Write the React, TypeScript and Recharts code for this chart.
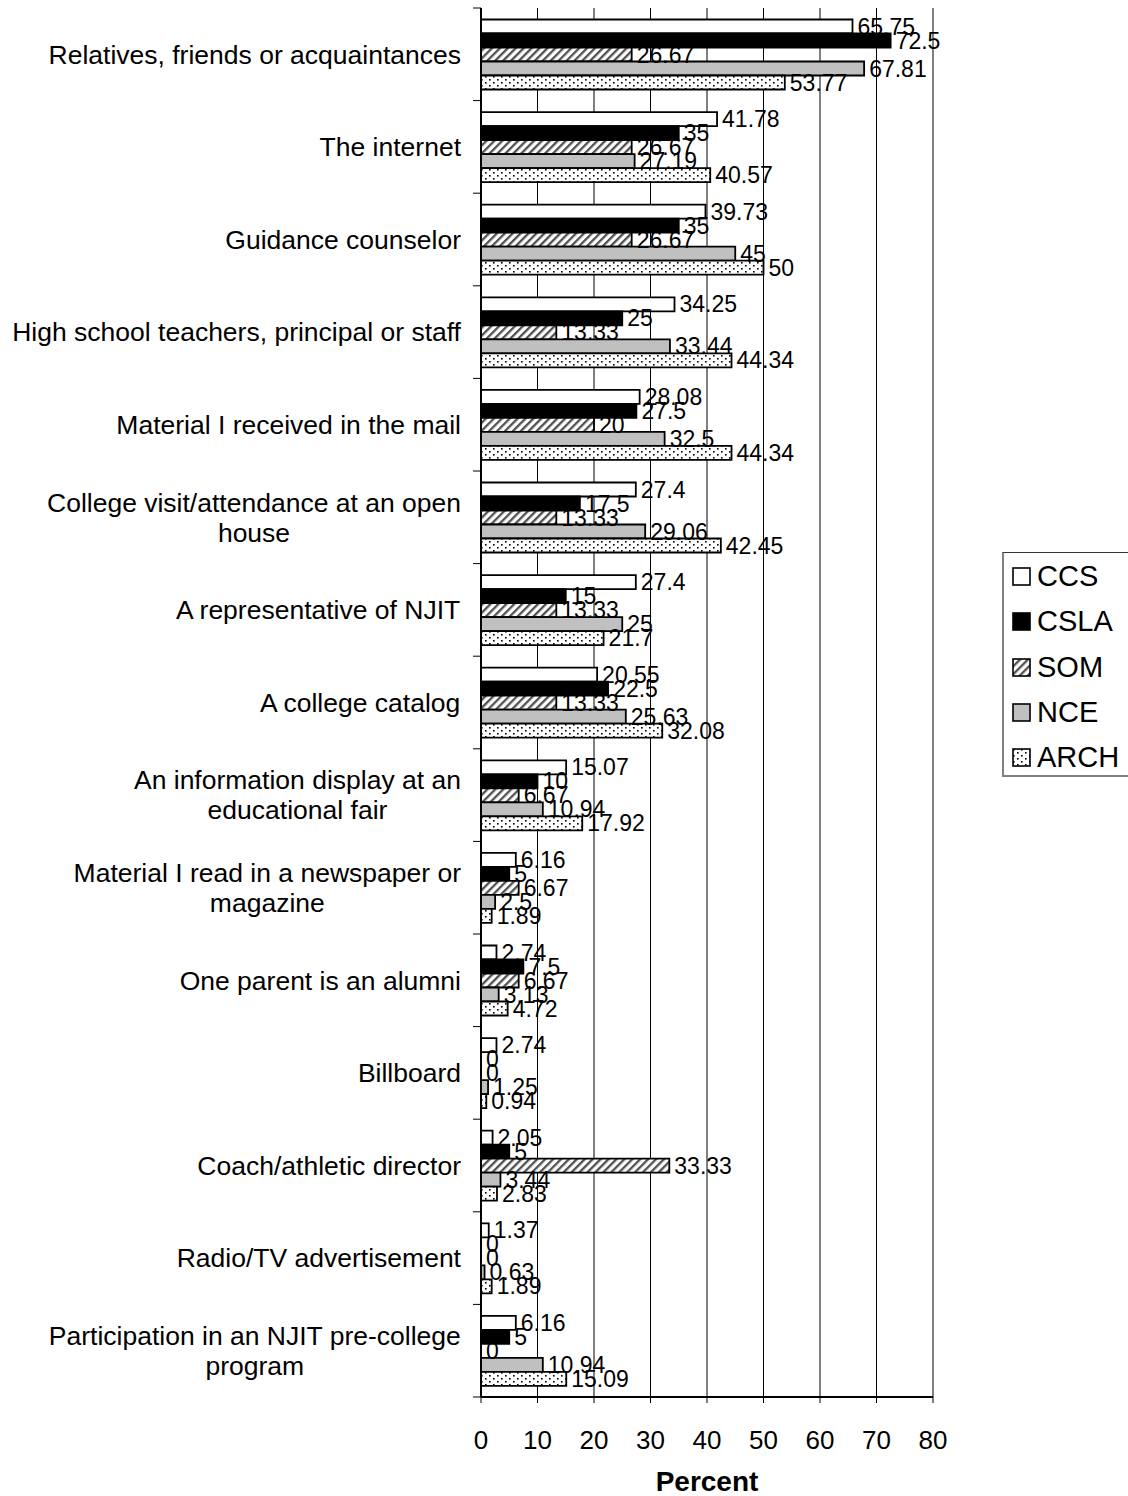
import React from 'react';
import { BarChart, Bar, XAxis, YAxis, CartesianGrid, LabelList, Legend, Label, Cell } from 'recharts';

const categories = [
  'Relatives, friends or acquaintances',
  'The internet',
  'Guidance counselor',
  'High school teachers, principal or staff',
  'Material I received in the mail',
  'College visit/attendance at an open house',
  'A representative of NJIT',
  'A college catalog',
  'An information display at an educational fair',
  'Material I read in a newspaper or magazine',
  'One parent is an alumni',
  'Billboard',
  'Coach/athletic director',
  'Radio/TV advertisement',
  'Participation in an NJIT pre-college program',
];

const ccs = [65.75, 41.78, 39.73, 34.25, 28.08, 27.4, 27.4, 20.55, 15.07, 6.16, 2.74, 2.74, 2.05, 1.37, 6.16];
const csla = [72.5, 35, 35, 25, 27.5, 17.5, 15, 22.5, 10, 5, 7.5, 0, 5, 0, 5];
const som = [26.67, 26.67, 26.67, 13.33, 20, 13.33, 13.33, 13.33, 6.67, 6.67, 6.67, 0, 33.33, 0, 0];
const nce = [67.81, 27.19, 45, 33.44, 32.5, 29.06, 25, 25.63, 10.94, 2.5, 3.13, 1.25, 3.44, 0.63, 10.94];
const arch = [53.77, 40.57, 50, 44.34, 44.34, 42.45, 21.7, 32.08, 17.92, 1.89, 4.72, 0.94, 2.83, 1.89, 15.09];

const seriesNames = ['CCS', 'CSLA', 'SOM', 'NCE', 'ARCH'];
const seriesValues: Record<string, number[]> = { CCS: ccs, CSLA: csla, SOM: som, NCE: nce, ARCH: arch };
const xTicks = [0, 10, 20, 30, 40, 50, 60, 70, 80];
const xTitle = 'Percent';

const data = categories.map((name, i) => ({
  name,
  CCS: ccs[i],
  CSLA: csla[i],
  SOM: som[i],
  NCE: nce[i],
  ARCH: arch[i],
}));

const FONT = "'Liberation Sans', Arial, sans-serif";
const W = 1128;
const H = 1496;
const M = { top: 8, right: 195, bottom: 0, left: 0 };
const Y_W = 481;
const X_H = 99;
const PLOT_H = H - M.top - M.bottom - X_H;
const STEP = PLOT_H / categories.length;
const CAT_FS = 26.5;
const WRAP_W = 458;
const LINE_H = 30;

const fills: Record<string, string> = {
  CCS: '#ffffff',
  CSLA: '#000000',
  SOM: 'url(#hatchSOM)',
  NCE: '#c0c0c0',
  ARCH: 'url(#dotsARCH)',
};

let ctx: CanvasRenderingContext2D | null = null;
function measure(t: string): number {
  if (!ctx) ctx = document.createElement('canvas').getContext('2d');
  if (!ctx) return t.length * CAT_FS * 0.5;
  ctx.font = `${CAT_FS}px ${FONT}`;
  return ctx.measureText(t).width;
}

function wrap(text: string, maxW: number): string[] {
  const words = text.split(' ');
  const lines: string[] = [];
  let cur = '';
  for (const w of words) {
    const test = cur ? cur + ' ' + w : w;
    if (cur && measure(test) > maxW) {
      lines.push(cur);
      cur = w;
    } else {
      cur = test;
    }
  }
  if (cur) lines.push(cur);
  return lines;
}

function CategoryTick(props: any) {
  const { y, payload, index } = props;
  const axisX = M.left + Y_W;
  const rightEdge = axisX - 20;
  const lines = wrap(String(payload.value), WRAP_W);
  const maxW = Math.max(...lines.map(measure));
  const cx = rightEdge - maxW / 2;
  const n = lines.length;
  const firstY = y - ((n - 1) * LINE_H) / 2 + CAT_FS * 0.35;
  return (
    <g>
      <line x1={axisX - 8} x2={axisX} y1={y - STEP / 2} y2={y - STEP / 2} stroke="#000" strokeWidth={1} />
      {index === categories.length - 1 && (
        <line x1={axisX - 8} x2={axisX} y1={y + STEP / 2} y2={y + STEP / 2} stroke="#000" strokeWidth={1} />
      )}
      <text x={cx} y={firstY} textAnchor="middle" fontSize={CAT_FS} fill="#000" fontFamily={FONT}>
        {lines.map((l, i) => (
          <tspan key={i} x={cx} y={firstY + i * LINE_H}>
            {l}
          </tspan>
        ))}
      </text>
    </g>
  );
}

function Swatch({ name }: { name: string }) {
  return (
    <svg width={19} height={19} style={{ display: 'block' }}>
      <rect x={1} y={1} width={17} height={17} fill={fills[name]} stroke="#000" strokeWidth={1.6} />
    </svg>
  );
}

function LegendBox() {
  return (
    <div
      style={{
        width: 126,
        height: 225,
        boxSizing: 'border-box',
        borderLeft: '2px solid #808080',
        borderBottom: '2px solid #808080',
        borderTop: '1px solid #333',
        paddingTop: 1,
        paddingLeft: 8,
        fontFamily: FONT,
      }}
    >
      {seriesNames.map((s) => (
        <div key={s} style={{ height: 45.3, display: 'flex', alignItems: 'center' }}>
          <Swatch name={s} />
          <span style={{ fontSize: 29, color: '#000', marginLeft: 6, lineHeight: 1 }}>{s}</span>
        </div>
      ))}
    </div>
  );
}

function Patterns() {
  return (
    <svg width={0} height={0} style={{ position: 'absolute' }}>
      <defs>
        <pattern id="hatchSOM" patternUnits="userSpaceOnUse" width={5.6} height={5.6} patternTransform="rotate(45)">
          <rect x={0} y={0} width={5.6} height={5.6} fill="#ffffff" />
          <rect x={0} y={0} width={2.3} height={5.6} fill="#505050" />
        </pattern>
        <pattern id="dotsARCH" patternUnits="userSpaceOnUse" width={8} height={6}>
          <rect x={0} y={0} width={8} height={6} fill="#ffffff" />
          <rect x={1} y={1} width={1.6} height={1.6} fill="#000000" />
          <rect x={5} y={4} width={1.6} height={1.6} fill="#000000" />
        </pattern>
      </defs>
    </svg>
  );
}

const minSize = (v: any) => (Number(v) === 0 ? 0.01 : 0);

export default function App() {
  return (
    <div style={{ position: 'absolute', left: 0, top: 0, width: W, height: H, overflow: 'hidden', background: '#fff' }}>
      <Patterns />
      <BarChart
        width={W}
        height={H}
        data={data}
        layout="vertical"
        margin={M}
        barCategoryGap="12.4%"
        barGap={0}
        style={{ fontFamily: FONT }}
      >
        <CartesianGrid horizontal={false} vertical stroke="#000" strokeWidth={1} />
        <XAxis
          type="number"
          domain={[0, 80]}
          ticks={xTicks}
          interval={0}
          height={X_H}
          tick={{ fontSize: 26, fill: '#000', fontFamily: FONT }}
          tickLine={{ stroke: '#000', strokeWidth: 1 }}
          tickSize={6}
          tickMargin={28}
          axisLine={{ stroke: '#000', strokeWidth: 2 }}
          allowDataOverflow
        >
          <Label
            value={xTitle}
            position="insideBottom"
            offset={5}
            style={{ fontSize: 28, fontWeight: 'bold', fill: '#000', fontFamily: FONT }}
          />
        </XAxis>
        <XAxis
          xAxisId="top"
          orientation="top"
          type="number"
          domain={[0, 80]}
          height={0}
          tick={false}
          tickLine={false}
          axisLine={{ stroke: '#000', strokeWidth: 2 }}
        />
        <YAxis
          type="category"
          dataKey="name"
          width={Y_W}
          interval={0}
          tick={(p: any) => <CategoryTick {...p} />}
          tickLine={false}
          axisLine={{ stroke: '#000', strokeWidth: 2 }}
        />
        <YAxis
          yAxisId="right"
          orientation="right"
          type="category"
          dataKey="name"
          width={0}
          tick={false}
          tickLine={false}
          axisLine={{ stroke: '#000', strokeWidth: 2 }}
        />
        {seriesNames.map((s) => (
          <Bar
            key={s}
            dataKey={s}
            fill={fills[s]}
            stroke="#000"
            strokeWidth={1.8}
            minPointSize={minSize}
            isAnimationActive={false}
          >
            {seriesValues[s].map((v, i) => (
              <Cell
                key={i}
                fill={v === 0 ? 'none' : fills[s]}
                stroke={v === 0 ? 'none' : '#000'}
              />
            ))}
            <LabelList
              dataKey={s}
              position="right"
              offset={5}
              fontSize={23}
              fill="#000"
              stroke="none"
              fontFamily={FONT}
            />
          </Bar>
        ))}
        <Legend
          layout="horizontal"
          align="center"
          verticalAlign="middle"
          content={() => <LegendBox />}
          wrapperStyle={{ position: 'absolute', left: 1002, top: 552, width: 126, height: 225 }}
        />
      </BarChart>
    </div>
  );
}
